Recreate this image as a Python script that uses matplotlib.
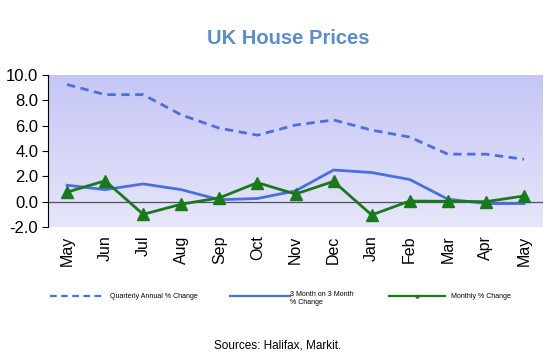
import numpy as np
import matplotlib.pyplot as plt
from matplotlib.colors import LinearSegmentedColormap

plt.rcParams['font.family'] = ['Liberation Sans', 'DejaVu Sans']

# data
months = ['May', 'Jun', 'Jul', 'Aug', 'Sep', 'Oct', 'Nov', 'Dec',
          'Jan', 'Feb', 'Mar', 'Apr', 'May']
quarterly = [9.25, 8.45, 8.45, 6.85, 5.8, 5.25, 6.05, 6.45, 5.65, 5.1, 3.75, 3.75, 3.35]
three_month = [1.3, 0.95, 1.4, 0.95, 0.15, 0.25, 0.85, 2.5, 2.3, 1.75, 0.2, -0.15, -0.15]
monthly = [0.75, 1.65, -1.0, -0.2, 0.3, 1.5, 0.6, 1.6, -1.05, 0.05, 0.03, 0.0, 0.45]

x = np.arange(len(months))

fig = plt.figure(figsize=(5.51, 3.62), dpi=100)
ax = fig.add_axes([48 / 551, 1 - 227 / 362, 495 / 551, 152 / 362])

# gradient background
cmap = LinearSegmentedColormap.from_list('bg', ['#e6e6fa', '#c6c6f6'])
grad = np.linspace(0, 1, 256).reshape(-1, 1)
ax.imshow(grad, aspect='auto', cmap=cmap, origin='lower',
          extent=[-0.5, len(months) - 0.5, -2, 10], zorder=0)

ax.axhline(0, color='#505060', lw=0.9, zorder=1)

l1, = ax.plot(x, quarterly, color='#4a6fe0', lw=2, ls=(0, (3, 2)), zorder=3)
l2, = ax.plot(x, three_month, color='#4a6fe0', lw=2, zorder=3)
l3, = ax.plot(x, monthly, color='#1a7a1a', lw=2, marker='^', ms=9, zorder=4)

ax.set_xlim(-0.5, len(months) - 0.5)
ax.set_ylim(-2, 10)
ax.set_yticks(np.arange(-2, 10.1, 2))
ax.set_yticklabels([f'{v:.1f}' for v in np.arange(-2, 10.1, 2)], fontsize=12)
ax.set_xticks(x)
ax.set_xticklabels(months, rotation=90, fontsize=11.5)
ax.tick_params(axis='x', length=0, pad=6)
ax.tick_params(axis='y', length=4, direction='out', pad=3)
for s in ['top', 'right', 'bottom']:
    ax.spines[s].set_visible(False)
ax.spines['left'].set_color('black')
ax.spines['left'].set_linewidth(0.8)

fig.text(288 / 551, 1 - 38 / 362, 'UK House Prices', ha='center', va='center',
         fontsize=14.5, fontweight='bold', color='#5a8ccf')

# legend drawn manually in figure coords
def leg_line(x0, x1, y, **kw):
    fig.add_artist(plt.Line2D([x0 / 551, x1 / 551], [1 - y / 362, 1 - y / 362], **kw))

leg_line(50, 103, 296, color='#4a6fe0', lw=1.6, ls=(0, (3, 2)))
fig.text(110 / 551, 1 - 296 / 362, 'Quarterly Annual % Change', fontsize=5, va='center')
leg_line(230, 290, 296, color='#4a6fe0', lw=1.6)
fig.text(290 / 551, 1 - 299 / 362, '3 Month on 3 Month\n% Change', fontsize=5, va='center')
leg_line(389, 445, 296, color='#1a7a1a', lw=1.6)
fig.add_artist(plt.Line2D([417 / 551], [1 - 296 / 362], color='#1a7a1a',
                          marker='^', ms=2))
fig.text(451 / 551, 1 - 296 / 362, 'Monthly % Change', fontsize=5, va='center')

fig.text(278 / 551, 1 - 345 / 362, 'Sources: Halifax, Markit.', ha='center', va='center',
         fontsize=8.5)

fig.savefig('out.png', dpi=100)
